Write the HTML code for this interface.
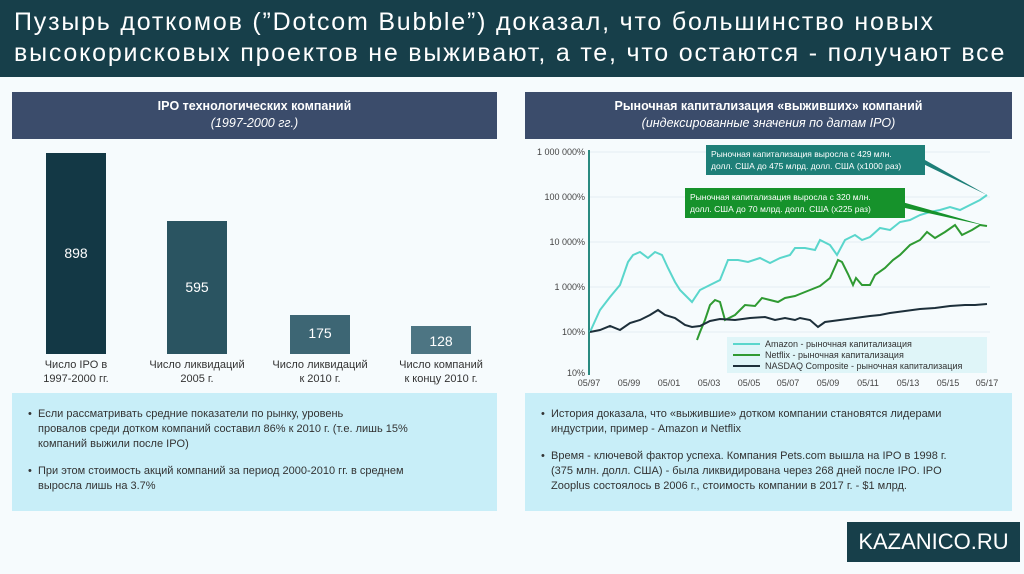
<!DOCTYPE html>
<html><head><meta charset="utf-8"><style>
body{margin:0;width:1024px;height:574px;background:#f6fbfd;font-family:"Liberation Sans",sans-serif;position:relative;overflow:hidden}
.hdr{position:absolute;left:0;top:0;width:1024px;height:77px;background:#173f4a;color:#fff;font-size:25px;line-height:31px;padding:7px 0 0 14px;box-sizing:border-box;letter-spacing:1.8px;white-space:nowrap}
.box{position:absolute;background:#3b4c6b;color:#fff;text-align:center;font-size:12.5px;line-height:17px;box-sizing:border-box;padding-top:6px}
.box i{font-weight:normal}
.note{position:absolute;background:#c8eef8;color:#333;font-size:11px;line-height:15px;box-sizing:border-box;padding:14px 10px 0 26px;white-space:nowrap}
.note p{margin:0 0 12px 0;position:relative}
.note p:before{content:"•";position:absolute;left:-10px}
.bar{position:absolute;color:#fff;font-size:14px;text-align:center}
.lbl{position:absolute;font-size:11px;line-height:14px;color:#333;text-align:center;width:120px}
.logo{position:absolute;left:847px;top:522px;width:173px;height:40px;background:#173f4a;color:#fff;font-size:22px;line-height:40px;text-align:center}
</style></head><body>
<div class="hdr">Пузырь доткомов (”Dotcom Bubble”) доказал, что большинство новых<br>высокорисковых проектов не выживают, а те, что остаются - получают все</div>
<div class="box" style="left:12px;top:92px;width:485px;height:47px"><b>IPO технологических компаний</b><br><i>(1997-2000 гг.)</i></div>
<div class="box" style="left:525px;top:92px;width:487px;height:47px"><b>Рыночная капитализация «выживших» компаний</b><br><i>(индексированные значения по датам IPO)</i></div>

<div class="bar" style="left:46px;top:153px;width:60px;height:201px;background:#133845;line-height:200px">898</div>
<div class="bar" style="left:167px;top:221px;width:60px;height:133px;background:#2a5461;line-height:133px">595</div>
<div class="bar" style="left:290px;top:315px;width:60px;height:39px;background:#3d6674;line-height:36px">175</div>
<div class="bar" style="left:411px;top:326px;width:60px;height:28px;background:#4d7583;line-height:30px">128</div>
<div class="lbl" style="left:16px;top:358px">Число IPO в<br>1997-2000 гг.</div>
<div class="lbl" style="left:137px;top:358px">Число ликвидаций<br>2005 г.</div>
<div class="lbl" style="left:260px;top:358px">Число ликвидаций<br>к 2010 г.</div>
<div class="lbl" style="left:381px;top:358px">Число компаний<br>к концу 2010 г.</div>

<svg style="position:absolute;left:0;top:0" width="1024" height="574" font-family="Liberation Sans, sans-serif">
<g stroke="#e4eef2" stroke-width="1">
<line x1="590" y1="152" x2="990" y2="152"/><line x1="590" y1="197" x2="990" y2="197"/><line x1="590" y1="242" x2="990" y2="242"/><line x1="590" y1="287" x2="990" y2="287"/><line x1="590" y1="332" x2="990" y2="332"/>
</g>
<line x1="589" y1="150" x2="589" y2="375" stroke="#2a8a80" stroke-width="2"/>
<g font-size="9" fill="#444" text-anchor="end">
<text x="585" y="155">1 000 000%</text><text x="585" y="200">100 000%</text><text x="585" y="245">10 000%</text><text x="585" y="290">1 000%</text><text x="585" y="335">100%</text><text x="585" y="376">10%</text>
</g>
<g font-size="9" fill="#444" text-anchor="middle">
<text x="589" y="386">05/97</text><text x="629" y="386">05/99</text><text x="669" y="386">05/01</text><text x="709" y="386">05/03</text><text x="749" y="386">05/05</text><text x="788" y="386">05/07</text><text x="828" y="386">05/09</text><text x="868" y="386">05/11</text><text x="908" y="386">05/13</text><text x="948" y="386">05/15</text><text x="987" y="386">05/17</text>
</g>
<polyline fill="none" stroke="#5ad6cc" stroke-width="2" points="590,332 600,310 610,297 620,285 628,262 633,255 640,252 648,258 655,252 662,255 668,268 675,282 680,290 685,295 692,302 700,290 710,285 720,280 728,260 738,260 748,262 760,258 770,263 780,258 790,255 795,248 805,248 815,250 820,240 830,245 837,255 845,240 855,235 862,240 870,237 880,228 890,230 900,222 910,220 920,215 930,212 940,210 950,207 960,210 970,205 980,200 987,195"/>
<polyline fill="none" stroke="#2f9a32" stroke-width="2" points="697,340 700,332 705,320 710,305 715,300 720,302 725,320 735,315 745,305 755,306 762,298 770,300 778,302 785,298 795,296 800,294 810,290 820,286 830,278 838,260 842,262 848,274 853,285 856,278 862,285 870,285 875,275 885,268 893,260 900,255 910,245 920,240 927,232 935,238 945,232 955,225 962,235 972,230 980,225 987,226"/>
<polyline fill="none" stroke="#1d2f3a" stroke-width="2" points="590,332 600,330 610,326 620,330 630,323 640,320 650,315 658,310 665,315 675,318 685,325 692,327 700,326 710,321 720,319 735,320 750,318 765,317 775,320 785,318 795,320 800,318 810,320 818,327 825,322 840,320 855,318 870,316 880,315 890,313 905,311 920,309 935,308 950,306 965,305 975,305 987,304"/>
<rect x="727" y="337" width="260" height="36" fill="#dff5f8"/>
<line x1="733" y1="344" x2="760" y2="344" stroke="#5ad6cc" stroke-width="2"/>
<line x1="733" y1="355" x2="760" y2="355" stroke="#2f9a32" stroke-width="2"/>
<line x1="733" y1="366" x2="760" y2="366" stroke="#1d2f3a" stroke-width="2"/>
<g font-size="9" fill="#333"><text x="765" y="347">Amazon - рыночная капитализация</text><text x="765" y="358">Netflix - рыночная капитализация</text><text x="765" y="369">NASDAQ Composite - рыночная капитализация</text></g>
<polygon points="915,160 925,160 987,195" fill="#1e7f78"/>
<rect x="706" y="145" width="219" height="30" fill="#1e7f78"/>
<g font-size="8.5" fill="#fff"><text x="711" y="157">Рыночная капитализация выросла с 429 млн.</text><text x="711" y="169">долл. США до 475 млрд. долл. США (x1000 раз)</text></g>
<polygon points="895,200 905,208 987,226" fill="#16922b"/>
<rect x="685" y="188" width="220" height="30" fill="#16922b"/>
<g font-size="8.5" fill="#fff"><text x="690" y="200">Рыночная капитализация выросла с 320 млн.</text><text x="690" y="212">долл. США до 70 млрд. долл. США (x225 раз)</text></g>
</svg>

<div class="note" style="left:12px;top:393px;width:485px;height:118px"><p>Если рассматривать средние показатели по рынку, уровень<br>провалов среди дотком компаний составил 86% к 2010 г. (т.е. лишь 15%<br>компаний выжили после IPO)</p><p>При этом стоимость акций компаний за период 2000-2010 гг. в среднем<br>выросла лишь на 3.7%</p></div>
<div class="note" style="left:525px;top:393px;width:487px;height:118px"><p>История доказала, что «выжившие» дотком компании становятся лидерами<br>индустрии, пример - Amazon и Netflix</p><p>Время - ключевой фактор успеха. Компания Pets.com вышла на IPO в 1998 г.<br>(375 млн. долл. США) - была ликвидирована через 268 дней после IPO. IPO<br>Zooplus состоялось в 2006 г., стоимость компании в 2017 г. - $1 млрд.</p></div>
<div class="logo">KAZANICO.RU</div>
</body></html>
